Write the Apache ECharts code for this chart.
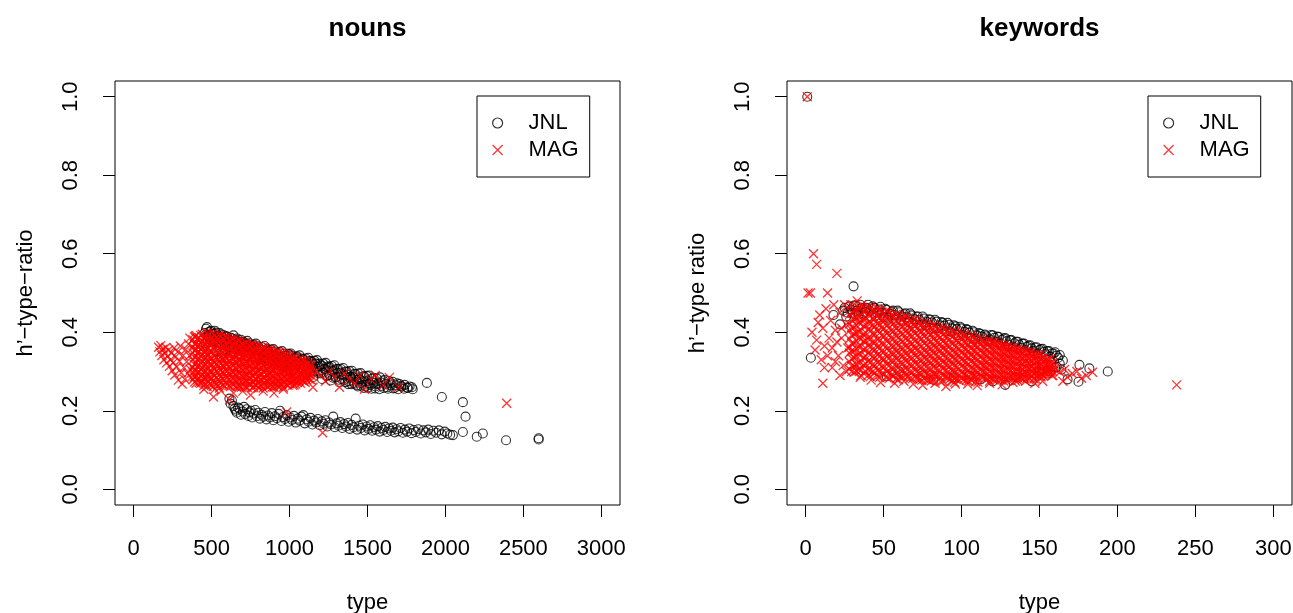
<!DOCTYPE html>
<html>
<head>
<meta charset="utf-8">
<script src="https://cdn.jsdelivr.net/npm/echarts@6/dist/echarts.min.js"></script>
<style>
  html, body { margin: 0; padding: 0; background: #fff; }
  #chart { width: 1293px; height: 613px; }
</style>
</head>
<body>
<div id="chart"></div>
<script>
// tick labels
const nounsTicks = [0, 500, 1000, 1500, 2000, 2500, 3000]
const keywordsTicks = [0, 50, 100, 150, 200, 250, 300]
const ratioTicks = [0, 0.2, 0.4, 0.6, 0.8, 1.0]

// nouns, JNL: upper band (two passes), lower band, far right points
const nounsJnlUpper = [
  [455,0.398],[462,0.372],[470,0.413],[478,0.389],[490,0.402],[497,0.36],[505,0.395],[512,0.377],[520,0.404],[528,0.352],
  [536,0.389],[544,0.368],[552,0.398],[560,0.381],[568,0.345],[575,0.393],[583,0.372],[592,0.357],[600,0.389],[608,0.378],
  [616,0.341],[624,0.386],[632,0.366],[640,0.392],[648,0.351],[656,0.379],[664,0.384],[672,0.335],[680,0.372],[688,0.381],
  [696,0.357],[704,0.376],[712,0.329],[720,0.369],[728,0.378],[736,0.347],[744,0.372],[752,0.362],[760,0.322],[768,0.368],
  [776,0.355],[784,0.371],[792,0.34],[800,0.364],[808,0.357],[816,0.316],[824,0.362],[832,0.348],[840,0.365],[848,0.333],
  [856,0.358],[864,0.352],[872,0.31],[880,0.356],[888,0.342],[896,0.357],[904,0.327],[912,0.351],[920,0.346],[928,0.305],
  [936,0.35],[944,0.336],[952,0.352],[960,0.32],[968,0.346],[976,0.34],[984,0.3],[992,0.345],[1000,0.331],[1008,0.346],
  [1016,0.314],[1024,0.339],[1032,0.335],[1040,0.295],[1048,0.339],[1056,0.325],[1064,0.341],[1072,0.308],[1080,0.333],[1088,0.33],
  [1096,0.291],[1104,0.333],[1112,0.318],[1120,0.335],[1128,0.302],[1136,0.327],[1144,0.324],[1152,0.286],[1160,0.327],[1168,0.312],
  [1176,0.329],[1184,0.296],[1192,0.32],[1200,0.318],[1208,0.281],[1216,0.32],[1224,0.306],[1232,0.322],[1240,0.29],[1248,0.313],
  [1256,0.312],[1264,0.277],[1272,0.314],[1280,0.3],[1288,0.316],[1296,0.284],[1304,0.307],[1312,0.306],[1320,0.272],[1328,0.307],
  [1336,0.293],[1344,0.309],[1352,0.279],[1360,0.3],[1368,0.299],[1376,0.268],[1384,0.301],[1392,0.287],[1400,0.302],[1408,0.274],
  [1416,0.294],[1424,0.293],[1432,0.265],[1440,0.295],[1448,0.281],[1456,0.296],[1464,0.27],[1472,0.288],[1480,0.287],[1488,0.262],
  [1496,0.289],[1504,0.276],[1512,0.29],[1520,0.266],[1530,0.282],[1540,0.284],[1550,0.262],[1560,0.282],[1570,0.27],[1580,0.285],
  [1590,0.263],[1600,0.277],[1612,0.279],[1625,0.26],[1638,0.276],[1650,0.265],[1662,0.274],[1675,0.258],[1690,0.27],[1705,0.268],
  [1720,0.262],[1738,0.266],[1755,0.259],[1770,0.262],[1785,0.26]
]
const nounsJnlUpper2 = [
  [464,0.409],[472,0.393],[480,0.4],[488,0.382],[496,0.404],[504,0.389],[512,0.396],[520,0.378],[528,0.399],[536,0.384],
  [544,0.391],[552,0.373],[560,0.395],[568,0.379],[576,0.386],[584,0.368],[592,0.39],[600,0.374],[608,0.381],[616,0.363],
  [624,0.385],[632,0.369],[640,0.376],[648,0.358],[656,0.381],[664,0.364],[672,0.371],[680,0.353],[688,0.376],[696,0.36],
  [704,0.366],[712,0.349],[720,0.371],[728,0.355],[736,0.362],[744,0.344],[752,0.366],[760,0.35],[768,0.357],[776,0.339],
  [784,0.36],[792,0.345],[800,0.352],[808,0.334],[816,0.355],[824,0.34],[832,0.347],[840,0.329],[848,0.35],[856,0.335],
  [864,0.342],[872,0.325],[880,0.345],[888,0.33],[896,0.337],[904,0.32],[912,0.34],[920,0.325],[928,0.332],[936,0.315],
  [944,0.335],[952,0.32],[960,0.327],[968,0.31],[976,0.33],[984,0.315],[992,0.322],[1000,0.305],[1008,0.341],[1018,0.323],
  [1028,0.334],[1038,0.316],[1048,0.336],[1058,0.318],[1068,0.329],[1078,0.311],[1088,0.331],[1098,0.313],[1108,0.323],[1118,0.306],
  [1128,0.326],[1138,0.308],[1148,0.318],[1158,0.3],[1168,0.32],[1178,0.302],[1188,0.313],[1198,0.295],[1208,0.314],[1218,0.297],
  [1228,0.307],[1238,0.289],[1248,0.309],[1258,0.291],[1268,0.302],[1278,0.284],[1288,0.303],[1298,0.286],[1308,0.296],[1318,0.279],
  [1328,0.297],[1338,0.28],[1348,0.29],[1358,0.273],[1368,0.292],[1378,0.275],[1388,0.285],[1398,0.268],[1408,0.286],[1418,0.269],
  [1428,0.279],[1438,0.262],[1448,0.28],[1458,0.264],[1468,0.274],[1478,0.258],[1490,0.275],[1502,0.259],[1514,0.27],[1526,0.256],
  [1538,0.271],[1550,0.257],[1562,0.268],[1576,0.255],[1590,0.272],[1604,0.258],[1618,0.269],[1632,0.256],[1648,0.27],[1664,0.257],
  [1680,0.265],[1696,0.255],[1715,0.263],[1735,0.256],[1760,0.258],[1790,0.255]
]
const nounsJnlLower = [
  [614,0.231],[622,0.218],[630,0.226],[640,0.212],[648,0.205],[655,0.2],[662,0.195],[670,0.208],[680,0.205],[688,0.19],
  [700,0.198],[708,0.21],[716,0.192],[725,0.204],[735,0.187],[742,0.196],[752,0.2],[760,0.183],[770,0.193],[780,0.202],
  [790,0.186],[800,0.195],[810,0.18],[820,0.19],[832,0.185],[842,0.197],[852,0.178],[862,0.188],[874,0.183],[886,0.194],
  [896,0.176],[906,0.186],[918,0.181],[930,0.192],[939,0.2],[948,0.174],[958,0.184],[970,0.179],[982,0.189],[994,0.172],
  [1005,0.183],[1016,0.177],[1028,0.187],[1040,0.17],[1052,0.18],[1064,0.175],[1076,0.185],[1088,0.189],[1098,0.168],[1110,0.178],
  [1122,0.172],[1134,0.182],[1146,0.165],[1158,0.175],[1170,0.17],[1182,0.179],[1194,0.163],[1206,0.173],[1218,0.167],[1230,0.176],
  [1242,0.16],[1254,0.17],[1266,0.165],[1280,0.185],[1290,0.158],[1302,0.168],[1314,0.162],[1326,0.171],[1338,0.156],[1350,0.166],
  [1362,0.16],[1374,0.169],[1386,0.154],[1398,0.164],[1410,0.158],[1424,0.18],[1434,0.152],[1446,0.162],[1458,0.156],[1470,0.165],
  [1482,0.15],[1494,0.16],[1506,0.154],[1518,0.163],[1530,0.149],[1542,0.158],[1554,0.152],[1566,0.161],[1578,0.147],[1590,0.156],
  [1602,0.151],[1614,0.159],[1626,0.146],[1638,0.155],[1650,0.149],[1662,0.157],[1674,0.145],[1686,0.153],[1698,0.148],[1712,0.156],
  [1726,0.144],[1740,0.152],[1754,0.147],[1768,0.155],[1782,0.143],[1796,0.151],[1810,0.146],[1826,0.153],[1842,0.142],[1858,0.15],
  [1874,0.145],[1890,0.152],[1906,0.141],[1922,0.149],[1940,0.144],[1958,0.15],[1976,0.14],[1995,0.147],[2012,0.142],[2030,0.139],
  [2048,0.138]
]
const nounsJnlFar = [
  [1881,0.271],[1977,0.235],[2112,0.222],[2129,0.185],[2112,0.146],[2201,0.134],[2240,0.142],[2389,0.125],[2598,0.13],[2598,0.127]
]

// nouns, MAG: dense cloud as [type, ratio, ratio, ...] columns, plus scattered points
const nounsMagCloud = [
  [380, 0.381,0.362,0.347,0.329,0.311,0.296,0.279],
  [390, 0.388,0.37,0.353,0.336,0.318,0.302,0.286,0.273],
  [400, 0.392,0.371,0.356,0.338,0.322,0.304,0.288,0.27],
  [410, 0.383,0.364,0.347,0.33,0.313,0.297,0.28],
  [420, 0.386,0.368,0.35,0.333,0.317,0.299,0.283,0.272],
  [430, 0.392,0.373,0.356,0.339,0.321,0.305,0.288,0.27],
  [440, 0.395,0.377,0.361,0.343,0.326,0.309,0.292,0.275],
  [450, 0.383,0.366,0.349,0.331,0.314,0.297,0.281,0.264],
  [460, 0.389,0.372,0.354,0.337,0.32,0.302,0.287,0.268],
  [470, 0.398,0.381,0.363,0.346,0.329,0.312,0.295,0.279,0.262],
  [480, 0.394,0.376,0.359,0.341,0.325,0.308,0.29,0.274],
  [490, 0.383,0.367,0.35,0.332,0.315,0.298,0.281,0.268],
  [500, 0.386,0.369,0.351,0.334,0.318,0.3,0.283,0.266],
  [510, 0.397,0.379,0.362,0.345,0.328,0.311,0.294,0.277,0.262],
  [520, 0.391,0.374,0.357,0.339,0.323,0.305,0.289,0.272,0.255],
  [530, 0.388,0.371,0.353,0.336,0.319,0.302,0.285,0.268],
  [540, 0.383,0.366,0.349,0.331,0.315,0.298,0.28,0.265],
  [550, 0.393,0.376,0.359,0.342,0.325,0.308,0.291,0.275,0.258],
  [560, 0.388,0.371,0.353,0.336,0.32,0.303,0.286,0.27],
  [570, 0.384,0.367,0.35,0.333,0.316,0.299,0.282,0.266],
  [580, 0.381,0.363,0.346,0.329,0.312,0.295,0.278,0.264],
  [590, 0.388,0.371,0.354,0.337,0.32,0.304,0.288,0.272],
  [600, 0.385,0.367,0.35,0.333,0.317,0.3,0.284,0.268],
  [610, 0.38,0.363,0.346,0.329,0.313,0.296,0.28,0.264],
  [620, 0.377,0.36,0.343,0.326,0.309,0.293,0.276,0.262],
  [630, 0.384,0.367,0.351,0.334,0.318,0.301,0.285,0.27],
  [640, 0.381,0.364,0.347,0.33,0.314,0.297,0.281,0.266],
  [650, 0.376,0.359,0.343,0.327,0.31,0.294,0.278,0.263],
  [660, 0.374,0.357,0.34,0.323,0.307,0.29,0.274,0.26],
  [670, 0.378,0.362,0.346,0.33,0.314,0.298,0.282,0.266],
  [680, 0.377,0.36,0.344,0.327,0.311,0.294,0.278,0.263],
  [690, 0.371,0.355,0.339,0.323,0.307,0.291,0.275,0.26],
  [700, 0.37,0.353,0.337,0.32,0.304,0.288,0.271],
  [710, 0.369,0.353,0.337,0.321,0.306,0.29,0.274,0.262],
  [720, 0.373,0.357,0.34,0.324,0.308,0.291,0.276,0.261],
  [730, 0.37,0.354,0.338,0.322,0.306,0.29,0.274,0.259],
  [740, 0.366,0.35,0.333,0.317,0.301,0.285,0.269],
  [750, 0.363,0.348,0.332,0.316,0.3,0.284,0.268],
  [760, 0.369,0.353,0.337,0.321,0.305,0.289,0.273,0.259],
  [770, 0.365,0.349,0.334,0.318,0.302,0.287,0.271,0.26],
  [780, 0.362,0.346,0.33,0.314,0.298,0.282,0.267],
  [790, 0.358,0.343,0.327,0.312,0.296,0.28,0.265],
  [800, 0.365,0.349,0.333,0.317,0.302,0.286,0.27,0.258],
  [810, 0.355,0.34,0.325,0.31,0.294,0.279,0.266],
  [820, 0.358,0.342,0.326,0.311,0.295,0.279,0.264],
  [830, 0.361,0.345,0.33,0.315,0.3,0.285,0.27,0.258],
  [840, 0.36,0.345,0.329,0.314,0.298,0.283,0.268],
  [850, 0.352,0.337,0.322,0.307,0.292,0.277,0.263],
  [860, 0.354,0.338,0.323,0.307,0.292,0.276,0.262],
  [870, 0.353,0.338,0.323,0.308,0.293,0.278,0.264],
  [880, 0.356,0.341,0.326,0.31,0.295,0.28,0.266],
  [890, 0.347,0.332,0.317,0.302,0.287,0.272,0.261],
  [900, 0.35,0.334,0.319,0.304,0.289,0.273,0.26],
  [910, 0.343,0.328,0.314,0.299,0.284,0.27],
  [920, 0.351,0.336,0.321,0.306,0.291,0.276,0.263],
  [930, 0.348,0.333,0.318,0.303,0.288,0.274,0.262],
  [940, 0.345,0.33,0.315,0.3,0.285,0.27],
  [950, 0.34,0.325,0.31,0.295,0.281,0.267],
  [960, 0.346,0.331,0.316,0.301,0.287,0.272,0.26],
  [970, 0.343,0.328,0.314,0.299,0.285,0.271],
  [980, 0.34,0.325,0.311,0.296,0.281,0.267],
  [990, 0.335,0.321,0.306,0.292,0.278,0.265],
  [1000, 0.341,0.327,0.312,0.298,0.283,0.269],
  [1010, 0.33,0.316,0.302,0.288,0.274],
  [1020, 0.335,0.321,0.306,0.292,0.278,0.265],
  [1030, 0.333,0.319,0.305,0.291,0.277,0.266],
  [1040, 0.336,0.322,0.308,0.294,0.28,0.268],
  [1050, 0.327,0.313,0.299,0.285,0.272],
  [1060, 0.33,0.316,0.302,0.288,0.275],
  [1070, 0.324,0.31,0.296,0.282,0.27],
  [1080, 0.331,0.317,0.303,0.29,0.277],
  [1090, 0.327,0.313,0.3,0.287,0.275],
  [1100, 0.325,0.311,0.298,0.284,0.272],
  [1110, 0.317,0.303,0.29,0.279],
  [1120, 0.322,0.308,0.295,0.282],
  [1130, 0.318,0.305,0.292,0.28],
  [1140, 0.315,0.302,0.289,0.278]
]
const nounsMagScatter = [
  [160,0.362],[168,0.35],[174,0.366],[181,0.341],[188,0.357],[194,0.33],[199,0.348],[206,0.361],[211,0.322],[218,0.339],
  [224,0.355],[229,0.313],[236,0.33],[242,0.347],[247,0.302],[253,0.322],[259,0.36],[264,0.291],[270,0.338],[276,0.312],
  [282,0.35],[287,0.278],[293,0.326],[299,0.365],[305,0.297],[311,0.268],[317,0.341],[322,0.31],[328,0.28],[334,0.356],
  [340,0.325],[346,0.295],[352,0.37],[358,0.34],[364,0.305],[370,0.285],[395,0.39],[360,0.385],
  [450,0.255],[512,0.235],[560,0.25],[615,0.228],[640,0.245],[700,0.25],[750,0.24],[830,0.25],[900,0.245],[960,0.255],
  [981,0.197],[1212,0.144],[1150,0.26],[1170,0.3],[1200,0.29],[1230,0.275],[1260,0.3],[1290,0.285],[1320,0.26],[1350,0.295],
  [1380,0.28],[1420,0.27],[1450,0.29],[1480,0.255],[1520,0.28],[1550,0.29],[1600,0.265],[1640,0.285],[1700,0.26],[2393,0.219]
]

// keywords, JNL
const keywordsJnl = [
  [1,1.0],[3.3,0.335],[30.7,0.517],[17.8,0.444],[22,0.42],
  [24,0.455],[26,0.44],[28,0.466],[30,0.45],[32,0.468],[34,0.445],[36,0.462],[38,0.452],[40,0.47],[42,0.44],
  [44,0.462],[46,0.45],[48,0.465],[50,0.438],[52,0.457],[54,0.447],[56,0.455],[58,0.432],[60,0.451],[62,0.44],
  [64,0.448],[66,0.425],[68,0.443],[70,0.433],[72,0.44],[74,0.418],[76,0.435],[78,0.426],[80,0.432],[82,0.41],
  [84,0.427],[86,0.418],[88,0.424],[90,0.402],[92,0.419],[94,0.41],[96,0.415],[98,0.393],[100,0.41],[102,0.401],
  [104,0.406],[106,0.385],[108,0.4],[110,0.392],[112,0.396],[114,0.376],[116,0.39],[118,0.382],[120,0.392],[122,0.376],
  [124,0.388],[126,0.381],[128,0.385],[130,0.368],[132,0.38],[134,0.372],[136,0.376],[138,0.36],[140,0.371],[142,0.363],
  [144,0.367],[146,0.352],[148,0.362],[150,0.355],[152,0.358],[154,0.344],[156,0.352],[158,0.346],[160,0.349],[162,0.335],
  [52,0.288],[60,0.3],[75,0.29],[82,0.279],[95,0.285],[105,0.29],[112,0.28],[120,0.275],[128,0.266],[135,0.285],
  [140,0.305],[145,0.275],[147,0.31],[150,0.3],[152,0.318],[155,0.295],[157,0.3],[160,0.31],[161,0.312],[163,0.32],
  [164,0.305],[168,0.28],[175,0.274],[175.6,0.317],[182,0.308],[193.8,0.3]
]
const keywordsJnl2 = [
  [25,0.462],[27,0.45],[29,0.458],[31,0.468],[33,0.455],[35,0.47],[37,0.448],[39,0.462],[41,0.455],[43,0.466],
  [45,0.442],[47,0.458],[49,0.45],[51,0.46],[53,0.437],[55,0.452],[57,0.444],[59,0.455],[61,0.43],[63,0.446],
  [65,0.438],[67,0.448],[69,0.424],[71,0.44],[73,0.432],[75,0.44],[77,0.418],[79,0.433],[81,0.425],[83,0.432],
  [85,0.41],[87,0.426],[89,0.417],[91,0.424],[93,0.402],[95,0.418],[97,0.408],[99,0.414],[101,0.393],[103,0.408],
  [105,0.399],[107,0.404],[109,0.383],[111,0.398],[113,0.389],[115,0.394],[117,0.378],[119,0.393],[121,0.386],[123,0.389],
  [125,0.372],[127,0.384],[129,0.377],[131,0.38],[133,0.363],[135,0.376],[137,0.368],[139,0.371],[141,0.354],[143,0.366],
  [145,0.359],[147,0.361],[149,0.346],[151,0.357],[153,0.35],[155,0.352],[157,0.338],[159,0.346],[161,0.34],[163,0.342],
  [165,0.328]
]

// keywords, MAG: dense cloud columns plus scattered points
const keywordsMagCloud = [
  [28, 0.445,0.421,0.404,0.383,0.362,0.347,0.325,0.306],
  [29.5, 0.45,0.432,0.413,0.393,0.372,0.353,0.333,0.314,0.3],
  [31, 0.455,0.433,0.412,0.395,0.371,0.352,0.336,0.314,0.298],
  [32.5, 0.457,0.436,0.418,0.398,0.378,0.358,0.339,0.318,0.301],
  [34, 0.461,0.44,0.425,0.402,0.386,0.363,0.344,0.322,0.305],
  [35.5, 0.462,0.443,0.423,0.403,0.383,0.363,0.343,0.323,0.304,0.29],
  [37, 0.452,0.432,0.415,0.393,0.377,0.356,0.335,0.316,0.296],
  [38.5, 0.458,0.438,0.419,0.399,0.379,0.359,0.339,0.32,0.3],
  [40, 0.465,0.444,0.424,0.407,0.384,0.366,0.347,0.326,0.305,0.29],
  [41.5, 0.462,0.443,0.423,0.403,0.383,0.363,0.343,0.323,0.304,0.287],
  [43, 0.456,0.436,0.418,0.397,0.375,0.357,0.338,0.318,0.3],
  [44.5, 0.455,0.436,0.416,0.396,0.376,0.356,0.337,0.317,0.297],
  [46, 0.46,0.441,0.421,0.403,0.381,0.362,0.342,0.322,0.303,0.288],
  [47.5, 0.457,0.438,0.418,0.398,0.378,0.359,0.339,0.319,0.3,0.285],
  [49, 0.451,0.43,0.412,0.392,0.372,0.353,0.333,0.313,0.295],
  [50.5, 0.449,0.43,0.41,0.391,0.371,0.352,0.332,0.313,0.294],
  [52, 0.453,0.434,0.416,0.396,0.377,0.357,0.337,0.318,0.299,0.284],
  [53.5, 0.45,0.431,0.411,0.392,0.373,0.353,0.334,0.315,0.296,0.282],
  [55, 0.444,0.425,0.405,0.386,0.367,0.348,0.328,0.309,0.291],
  [56.5, 0.442,0.423,0.404,0.385,0.366,0.347,0.328,0.309,0.29],
  [58, 0.446,0.428,0.409,0.39,0.37,0.351,0.332,0.313,0.295,0.281],
  [59.5, 0.443,0.424,0.405,0.386,0.367,0.348,0.329,0.31,0.292,0.279],
  [61, 0.437,0.418,0.399,0.38,0.361,0.342,0.323,0.304,0.287],
  [62.5, 0.435,0.416,0.397,0.378,0.36,0.341,0.322,0.304,0.286],
  [64, 0.44,0.421,0.402,0.383,0.364,0.345,0.327,0.308,0.29],
  [65.5, 0.436,0.417,0.398,0.38,0.361,0.342,0.324,0.305,0.288],
  [67, 0.43,0.411,0.393,0.374,0.355,0.336,0.318,0.299,0.283],
  [68.5, 0.428,0.409,0.391,0.372,0.354,0.335,0.317,0.299,0.282],
  [70, 0.432,0.414,0.396,0.377,0.358,0.34,0.321,0.303,0.286],
  [71.5, 0.428,0.41,0.392,0.373,0.355,0.337,0.318,0.3,0.284],
  [73, 0.423,0.405,0.386,0.368,0.35,0.331,0.313,0.295,0.279],
  [74.5, 0.42,0.402,0.384,0.366,0.348,0.33,0.312,0.294,0.278],
  [76, 0.425,0.407,0.389,0.371,0.352,0.334,0.316,0.298,0.282],
  [77.5, 0.421,0.403,0.385,0.367,0.349,0.331,0.313,0.296,0.28],
  [79, 0.416,0.398,0.38,0.362,0.344,0.326,0.308,0.291,0.277],
  [80.5, 0.413,0.395,0.377,0.36,0.342,0.324,0.307,0.29,0.276],
  [82, 0.418,0.4,0.382,0.364,0.346,0.328,0.311,0.293,0.279],
  [83.5, 0.414,0.396,0.378,0.361,0.343,0.326,0.308,0.291],
  [85, 0.409,0.391,0.374,0.356,0.338,0.321,0.303,0.287],
  [86.5, 0.406,0.388,0.371,0.354,0.336,0.319,0.302,0.286,0.274],
  [88, 0.411,0.393,0.376,0.358,0.341,0.323,0.306,0.29,0.276],
  [89.5, 0.407,0.389,0.372,0.355,0.337,0.32,0.303,0.287],
  [91, 0.402,0.385,0.367,0.35,0.333,0.316,0.298,0.283],
  [92.5, 0.399,0.382,0.365,0.348,0.331,0.314,0.297,0.281],
  [94, 0.404,0.387,0.37,0.352,0.335,0.318,0.301,0.286,0.275],
  [95.5, 0.4,0.383,0.366,0.349,0.332,0.315,0.298,0.283,0.273],
  [97, 0.396,0.379,0.362,0.345,0.328,0.311,0.294,0.28],
  [98.5, 0.392,0.375,0.358,0.342,0.325,0.308,0.292,0.278],
  [100, 0.398,0.381,0.364,0.347,0.33,0.313,0.297,0.282],
  [101.5, 0.393,0.376,0.36,0.343,0.327,0.31,0.294,0.28],
  [103, 0.39,0.373,0.356,0.34,0.323,0.306,0.29,0.277],
  [104.5, 0.386,0.369,0.353,0.337,0.32,0.304,0.288,0.276],
  [106, 0.391,0.374,0.358,0.341,0.325,0.308,0.292,0.279],
  [107.5, 0.387,0.37,0.354,0.338,0.322,0.306,0.29],
  [109, 0.383,0.367,0.35,0.334,0.318,0.302,0.286,0.274],
  [110.5, 0.379,0.363,0.347,0.331,0.315,0.299,0.284,0.273],
  [112, 0.384,0.368,0.352,0.336,0.32,0.304,0.288],
  [113.5, 0.38,0.364,0.348,0.332,0.316,0.301,0.286],
  [115, 0.376,0.36,0.344,0.328,0.312,0.297,0.282],
  [116.5, 0.373,0.357,0.342,0.326,0.311,0.295,0.281],
  [118, 0.377,0.361,0.346,0.33,0.314,0.299,0.285,0.275],
  [119.5, 0.374,0.358,0.343,0.327,0.312,0.297,0.283],
  [121, 0.375,0.369,0.353,0.338,0.322,0.307,0.292,0.279],
  [122.5, 0.368,0.353,0.337,0.322,0.307,0.292,0.279],
  [124, 0.37,0.355,0.339,0.324,0.309,0.294,0.281],
  [125.5, 0.367,0.352,0.337,0.322,0.307,0.292,0.279],
  [127, 0.368,0.362,0.347,0.332,0.317,0.302,0.288,0.276],
  [128.5, 0.362,0.347,0.332,0.318,0.303,0.289,0.277],
  [130, 0.363,0.348,0.333,0.318,0.304,0.29,0.278],
  [131.5, 0.36,0.345,0.331,0.316,0.302,0.288],
  [133, 0.362,0.355,0.341,0.326,0.312,0.297,0.284],
  [134.5, 0.355,0.341,0.327,0.313,0.299,0.286,0.276],
  [136, 0.356,0.342,0.327,0.313,0.299,0.286,0.277],
  [137.5, 0.354,0.34,0.326,0.312,0.298,0.285],
  [139, 0.355,0.348,0.334,0.32,0.306,0.293,0.281],
  [140.5, 0.349,0.335,0.322,0.308,0.295,0.283],
  [142, 0.349,0.335,0.321,0.308,0.295,0.283],
  [143.5, 0.347,0.334,0.32,0.307,0.294,0.282],
  [145, 0.35,0.341,0.328,0.314,0.301,0.289],
  [146.5, 0.343,0.33,0.317,0.304,0.292,0.281],
  [148, 0.34,0.327,0.314,0.302,0.29,0.28],
  [149.5, 0.34,0.327,0.314,0.302,0.29],
  [151, 0.343,0.333,0.32,0.308,0.296,0.286],
  [152.5, 0.335,0.322,0.31,0.298,0.288],
  [154, 0.33,0.318,0.306,0.295],
  [155.5, 0.33,0.318,0.306,0.295],
  [157, 0.332,0.322,0.31,0.3],
  [158.5, 0.322,0.31,0.3,0.29]
]
const keywordsMagScatter = [
  [1,1.0],[5,0.6],[7,0.573],[20,0.55],[1.5,0.5],[3,0.5],[14,0.5],[4,0.4],[11,0.27],[12,0.31],[238,0.266],
  [9,0.444],[8,0.425],[11,0.41],[13,0.46],[15,0.385],[16,0.43],[17,0.36],[18,0.47],[19,0.405],[21,0.34],
  [22,0.45],[23,0.385],[24,0.315],[25,0.47],[26,0.42],[27,0.36],[6,0.355],[7,0.38],[10,0.33],[12,0.365],
  [14,0.34],[17,0.31],[19,0.325],[22,0.29],[26,0.3],[20,0.375],[23,0.41],[29,0.47],[33,0.48],[36,0.47],
  [35,0.285],[42,0.278],[48,0.272],[57,0.27],[63,0.275],[69,0.268],[75,0.265],[83,0.27],[90,0.262],[96,0.268],
  [104,0.268],[110,0.264],[118,0.27],[126,0.266],[133,0.272],[141,0.275],[147,0.27],
  [158,0.29],[160,0.31],[163,0.298],[166,0.305],[168,0.285],[171,0.295],[174,0.3],[177,0.283],[180,0.29],[184,0.298],
  [165,0.275],[152,0.275]
]

const font = 'Liberation Sans, Arial, Helvetica, sans-serif'
const cross = 'path://M0,0L10,10M0,10L10,0'

function unfold (cols) {
  const out = []
  cols.forEach(c => {
    for (let i = 1; i < c.length; i++) out.push([c[0], c[i]])
  })
  return out
}

function xAxisFor (grid, min, max, ticks) {
  return {
    gridIndex: grid, type: 'value', min: min, max: max,
    name: 'type', nameLocation: 'middle', nameGap: 87,
    nameTextStyle: { fontSize: 22, color: '#000', fontFamily: font },
    axisLine: { show: false, onZero: false },
    splitLine: { show: false },
    axisTick: { show: true, inside: false, length: 12, customValues: ticks, lineStyle: { color: '#000', width: 1 } },
    axisLabel: { customValues: ticks, margin: 33, fontSize: 22, color: '#000', fontFamily: font, formatter: v => String(v) }
  }
}

function yAxisFor (grid, name) {
  return {
    gridIndex: grid, type: 'value', min: -0.04, max: 1.04,
    name: name, nameLocation: 'middle', nameGap: 78, nameRotate: 90,
    nameTextStyle: { fontSize: 22, color: '#000', fontFamily: font },
    axisLine: { show: false, onZero: false },
    splitLine: { show: false },
    axisTick: { show: true, inside: false, length: 12, customValues: ratioTicks, lineStyle: { color: '#000', width: 1 } },
    axisLabel: { customValues: ratioTicks, margin: 33, rotate: 90, fontSize: 22, color: '#000', fontFamily: font, formatter: v => v.toFixed(1) }
  }
}

function legendAt (left) {
  return {
    left: left, top: 96, orient: 'vertical',
    data: ['JNL', 'MAG'],
    selectedMode: false,
    itemWidth: 10, itemHeight: 10, itemGap: 5,
    padding: [16, 11, 16, 15],
    borderColor: '#000', borderWidth: 1, borderRadius: 0, backgroundColor: '#fff',
    itemStyle: { borderWidth: 1.2 },
    textStyle: { fontSize: 22, color: '#000', fontFamily: font, padding: [0, 0, 0, 21] }
  }
}

function jnlSeries (idx, data) {
  return {
    name: 'JNL', type: 'scatter', xAxisIndex: idx, yAxisIndex: idx, data: data,
    symbol: 'circle', symbolSize: 9, silent: true,
    itemStyle: { color: 'transparent', borderColor: '#000', borderWidth: 1.1 }
  }
}

function magSeries (idx, data) {
  return {
    name: 'MAG', type: 'scatter', xAxisIndex: idx, yAxisIndex: idx, data: data,
    symbol: cross, symbolSize: 9, silent: true,
    itemStyle: { color: 'transparent', borderColor: '#ff0000', borderWidth: 1.3 }
  }
}

const chart = echarts.init(document.getElementById('chart'))
chart.setOption({
  animation: false,
  backgroundColor: '#fff',
  title: [
    { text: 'nouns', left: 367.5, top: 16, textAlign: 'center', padding: 0, textStyle: { fontSize: 26, fontWeight: 'bold', color: '#000', fontFamily: font } },
    { text: 'keywords', left: 1039.5, top: 16, textAlign: 'center', padding: 0, textStyle: { fontSize: 26, fontWeight: 'bold', color: '#000', fontFamily: font } }
  ],
  legend: [legendAt(477), legendAt(1148)],
  grid: [
    { left: 115, top: 81, width: 505, height: 424, outerBoundsMode: 'none', containLabel: false, show: true, borderColor: '#000', borderWidth: 1, backgroundColor: 'transparent' },
    { left: 787, top: 81, width: 505, height: 424, outerBoundsMode: 'none', containLabel: false, show: true, borderColor: '#000', borderWidth: 1, backgroundColor: 'transparent' }
  ],
  xAxis: [xAxisFor(0, -120, 3120, nounsTicks), xAxisFor(1, -12, 312, keywordsTicks)],
  yAxis: [yAxisFor(0, 'h’−type−ratio'), yAxisFor(1, 'h’−type ratio')],
  series: [
    jnlSeries(0, nounsJnlUpper.concat(nounsJnlUpper2, nounsJnlLower, nounsJnlFar)),
    magSeries(0, unfold(nounsMagCloud).concat(nounsMagScatter)),
    jnlSeries(1, keywordsJnl.concat(keywordsJnl2)),
    magSeries(1, unfold(keywordsMagCloud).concat(keywordsMagScatter))
  ]
})
</script>
</body>
</html>
